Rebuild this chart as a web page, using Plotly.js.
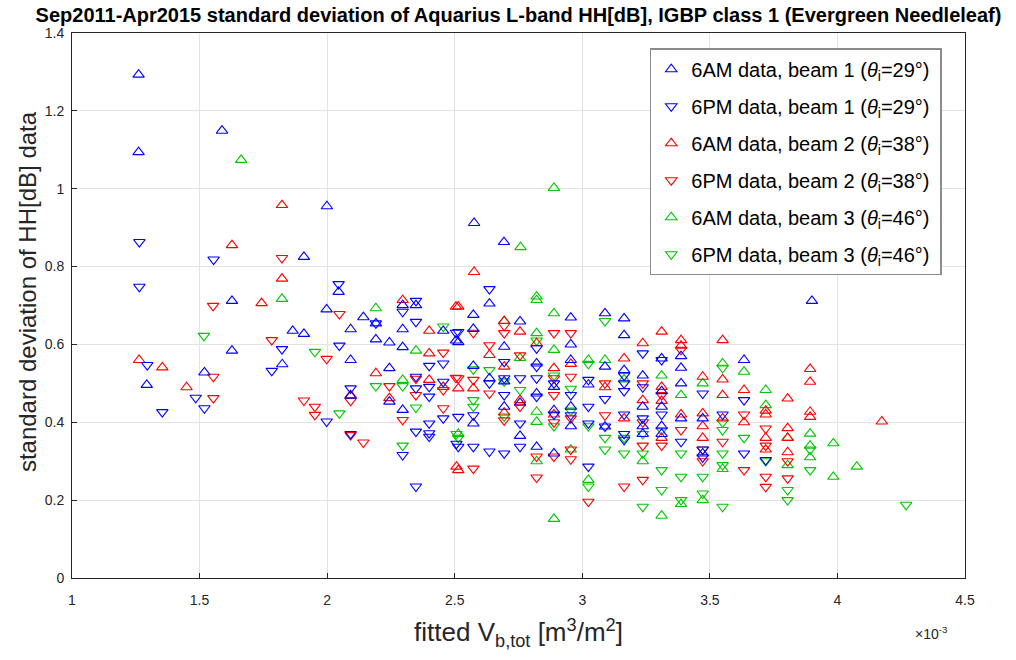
<!DOCTYPE html>
<html>
<head>
<meta charset="utf-8">
<script src="https://cdn.plot.ly/plotly-3.0.1.min.js"></script>
<style>html,body{margin:0;padding:0;background:#fff;}#chart{width:1016px;height:660px;}</style>
</head>
<body>
<div id="chart"></div>
<script>
// x values in units of 1e-3 m^3/m^2
var am1_x = [1.261,1.261,1.588,1.999,1.909,1.627,1.865,1.627,1.824,1.519,1.293,2.045,1.998,2.142,2.191,2.296,2.348,1.909,2.092,2.191,2.244,2.296,2.296,2.455,2.505,2.092,2.244,2.244,2.092,2.296,2.576,2.693,2.636,3.90,2.514,2.573,2.573,2.573,2.573,2.636,2.694,2.694,2.694,2.756,2.756,2.756,2.821,2.821,2.821,2.889,2.889,2.889,2.955,2.955,2.955,2.955,2.955,3.024,3.089,3.089,3.089,3.164,3.164,3.164,3.237,3.237,3.237,3.237,3.311,3.311,3.311,3.311,3.311,3.387,3.387,3.387,3.387,3.472,3.472,3.634];
var am1_y = [1.293,1.094,1.149,0.955,0.825,0.712,0.635,0.584,0.549,0.528,0.496,0.735,0.690,0.670,0.654,0.701,0.701,0.627,0.639,0.613,0.605,0.639,0.593,0.635,0.610,0.560,0.539,0.453,0.468,0.432,0.912,0.863,0.705,0.712,0.606,0.676,0.640,0.545,0.397,0.513,0.594,0.505,0.440,0.659,0.450,0.365,0.551,0.474,0.337,0.491,0.431,0.320,0.669,0.600,0.560,0.440,0.390,0.497,0.680,0.543,0.389,0.667,0.624,0.534,0.520,0.440,0.390,0.370,0.564,0.480,0.440,0.390,0.370,0.570,0.540,0.500,0.410,0.410,0.320,0.560];

var pm1_x = [1.264,1.555,1.264,2.045,1.295,1.823,1.783,1.485,1.519,1.354,2.048,1.998,2.191,2.296,2.348,2.348,2.505,2.400,2.455,2.348,2.348,2.400,2.400,2.455,2.092,2.092,2.348,2.296,2.400,2.400,2.400,2.455,2.348,2.507,2.636,2.514,2.514,2.514,2.573,2.573,2.636,2.636,2.694,2.694,2.694,2.694,2.756,2.756,2.756,2.821,2.821,2.821,2.821,2.889,2.889,2.955,2.955,3.024,3.024,3.024,3.024,3.089,3.089,3.164,3.164,3.164,3.164,3.164,3.164,3.237,3.237,3.237,3.311,3.311,3.387,3.472,3.472,3.472,3.550,3.634,3.634,3.719];
var pm1_y = [0.863,0.818,0.748,0.755,0.547,0.588,0.532,0.463,0.436,0.426,0.597,0.402,0.654,0.684,0.712,0.658,0.630,0.545,0.551,0.517,0.487,0.491,0.466,0.504,0.487,0.370,0.376,0.316,0.397,0.372,0.363,0.410,0.235,0.345,0.742,0.632,0.414,0.337,0.418,0.337,0.500,0.325,0.555,0.513,0.470,0.320,0.513,0.397,0.337,0.590,0.543,0.513,0.466,0.500,0.420,0.470,0.418,0.509,0.440,0.397,0.286,0.460,0.389,0.520,0.500,0.480,0.420,0.370,0.355,0.577,0.490,0.410,0.560,0.420,0.350,0.474,0.330,0.310,0.420,0.457,0.320,0.303];

var am2_x = [1.823,1.627,1.823,1.743,1.263,1.354,1.449,2.296,2.505,2.400,2.400,2.191,2.244,2.400,2.455,2.092,2.507,2.576,2.514,2.514,2.514,2.573,2.636,2.694,2.694,2.694,2.756,2.756,2.821,2.889,2.889,2.955,3.089,3.164,3.164,3.237,3.237,3.311,3.311,3.311,3.311,3.387,3.387,3.387,3.472,3.472,3.472,3.472,3.550,3.550,3.550,3.550,3.634,3.634,3.719,3.719,3.719,3.719,3.805,3.805,3.805,3.805,3.893,3.893,3.893,3.893,4.174];
var am2_y = [0.958,0.855,0.769,0.706,0.560,0.541,0.490,0.714,0.697,0.635,0.577,0.526,0.462,0.509,0.491,0.470,0.286,0.786,0.697,0.487,0.277,0.487,0.573,0.660,0.543,0.425,0.633,0.457,0.603,0.539,0.420,0.550,0.490,0.564,0.410,0.603,0.457,0.633,0.491,0.455,0.360,0.611,0.597,0.420,0.517,0.423,0.390,0.360,0.611,0.510,0.470,0.410,0.483,0.400,0.430,0.420,0.360,0.330,0.461,0.385,0.360,0.323,0.537,0.504,0.427,0.414,0.402];

var pm2_x = [1.823,1.553,1.783,1.554,1.554,2.048,1.998,2.455,2.244,2.348,2.348,2.455,2.505,1.909,1.952,1.952,2.092,2.092,2.142,2.296,2.455,2.573,2.573,2.573,2.514,2.636,2.636,2.694,2.694,2.694,2.756,2.756,2.821,2.821,2.889,2.889,2.889,2.889,2.889,2.955,2.955,2.955,2.955,2.955,3.024,3.089,3.089,3.164,3.237,3.237,3.237,3.237,3.311,3.311,3.387,3.387,3.472,3.472,3.550,3.634,3.634,3.719,3.719,3.719,3.719,3.805,3.805];
var pm2_y = [0.822,0.699,0.611,0.517,0.462,0.678,0.563,0.579,0.493,0.512,0.470,0.483,0.514,0.456,0.440,0.419,0.455,0.367,0.348,0.406,0.436,0.630,0.509,0.281,0.513,0.598,0.474,0.648,0.629,0.405,0.572,0.440,0.312,0.258,0.629,0.513,0.470,0.400,0.312,0.629,0.517,0.410,0.330,0.305,0.196,0.500,0.418,0.235,0.500,0.400,0.340,0.252,0.470,0.340,0.586,0.380,0.330,0.300,0.350,0.420,0.277,0.384,0.340,0.260,0.234,0.300,0.256];

var am3_x = [1.663,1.823,2.889,2.758,2.821,2.191,2.348,2.296,2.514,2.694,2.756,2.821,2.821,2.821,2.821,2.821,2.889,2.889,2.889,2.955,3.024,3.024,3.089,3.164,3.237,3.311,3.311,3.387,3.472,3.550,3.550,3.634,3.719,3.719,3.805,3.805,3.893,3.893,3.893,3.984,3.984,4.076,3.472,3.387];
var am3_y = [1.074,0.717,1.002,0.850,0.723,0.693,0.584,0.509,0.370,0.660,0.565,0.714,0.629,0.427,0.401,0.300,0.680,0.586,0.152,0.330,0.560,0.252,0.560,0.510,0.300,0.520,0.160,0.470,0.500,0.551,0.280,0.530,0.483,0.444,0.360,0.290,0.371,0.340,0.310,0.346,0.260,0.286,0.200,0.190];

var pm3_x = [1.517,1.952,2.455,2.191,2.296,2.048,2.296,2.348,2.507,2.514,2.573,2.573,2.573,2.636,2.694,2.694,2.756,2.821,2.889,2.889,2.955,2.955,3.024,3.024,3.024,3.089,3.089,3.089,3.164,3.164,3.237,3.237,3.237,3.311,3.311,3.311,3.387,3.387,3.387,3.472,3.472,3.550,3.550,3.550,3.550,3.550,3.550,3.634,3.719,3.805,3.805,3.893,3.893,4.269];
var pm3_y = [0.622,0.581,0.646,0.493,0.493,0.423,0.340,0.438,0.370,0.360,0.536,0.457,0.440,0.534,0.505,0.415,0.483,0.610,0.520,0.390,0.486,0.430,0.550,0.390,0.235,0.660,0.360,0.330,0.360,0.320,0.370,0.320,0.183,0.380,0.277,0.226,0.320,0.260,0.200,0.260,0.217,0.540,0.400,0.380,0.320,0.290,0.183,0.360,0.300,0.226,0.200,0.330,0.277,0.188];

var seriesNames = [
  '6AM data, beam 1 (<i>θ</i><sub>i</sub>=29°) ',
  '6PM data, beam 1 (<i>θ</i><sub>i</sub>=29°) ',
  '6AM data, beam 2 (<i>θ</i><sub>i</sub>=38°) ',
  '6PM data, beam 2 (<i>θ</i><sub>i</sub>=38°) ',
  '6AM data, beam 3 (<i>θ</i><sub>i</sub>=46°) ',
  '6PM data, beam 3 (<i>θ</i><sub>i</sub>=46°) '
];
var xTicks = [1, 1.5, 2, 2.5, 3, 3.5, 4, 4.5];
var yTicks = [0, 0.2, 0.4, 0.6, 0.8, 1, 1.2, 1.4];

var BLUE = 'rgb(0,0,255)', RED = 'rgb(255,0,0)', GREEN = 'rgb(0,200,0)';
function tr(x, y, name, sym, col, rank) {
  return {
    x: x, y: y, name: name, type: 'scatter', mode: 'markers',
    legendrank: rank, legendgroup: 'g' + rank,
    marker: {symbol: sym, size: 10, color: col, line: {color: col, width: 1.1}},
    hoverinfo: 'x+y'
  };
}
var data = [
  tr(pm3_x, pm3_y, seriesNames[5], 'triangle-down-open', GREEN, 6),
  tr(am3_x, am3_y, seriesNames[4], 'triangle-up-open', GREEN, 5),
  tr(pm2_x, pm2_y, seriesNames[3], 'triangle-down-open', RED, 4),
  tr(am2_x, am2_y, seriesNames[2], 'triangle-up-open', RED, 3),
  tr(pm1_x, pm1_y, seriesNames[1], 'triangle-down-open', BLUE, 2),
  tr(am1_x, am1_y, seriesNames[0], 'triangle-up-open', BLUE, 1)
];

var AX = '#262626';
var FONT = 'Liberation Sans, Arial, sans-serif';
var layout = {
  width: 1016, height: 660,
  margin: {l: 72, r: 51, t: 33, b: 82, pad: 0},
  paper_bgcolor: '#ffffff', plot_bgcolor: '#ffffff',
  font: {family: FONT, color: AX},
  title: {text: 'Sep2011-Apr2015 standard deviation of Aquarius L-band HH[dB], IGBP class 1 (Evergreen Needleleaf)',
          font: {family: FONT, size: 20, weight: 'bold', color: '#000'},
          x: 0.5, xref: 'paper', xanchor: 'center', y: 0.977, yanchor: 'middle'},
  xaxis: {
    range: [1, 4.5], tickvals: xTicks, ticktext: xTicks.map(String),
    showgrid: true, gridcolor: '#e3e3e3', gridwidth: 1, zeroline: false,
    showline: true, linecolor: AX, linewidth: 1, mirror: true,
    ticks: 'inside', ticklen: 5, tickcolor: AX, ticklabelstandoff: 9,
    tickfont: {size: 14, color: AX},
    title: {text: 'fitted V<sub>b,tot</sub> [m<sup>3</sup>/m<sup>2</sup>]', font: {size: 26, color: AX}, standoff: 16}
  },
  yaxis: {
    range: [0, 1.4], tickvals: yTicks, ticktext: yTicks.map(String),
    showgrid: true, gridcolor: '#e3e3e3', gridwidth: 1, zeroline: false,
    showline: true, linecolor: AX, linewidth: 1, mirror: true,
    ticks: 'inside', ticklen: 5, tickcolor: AX, ticklabelstandoff: 4,
    tickfont: {size: 14, color: AX}
  },
  legend: {
    x: 0.647, y: 0.972, xanchor: 'left', yanchor: 'top',
    bgcolor: '#ffffff', bordercolor: '#8c8c8c', borderwidth: 1.5,
    font: {size: 20, color: '#000'}, traceorder: 'grouped', tracegroupgap: 8,
    itemwidth: 30
  },
  annotations: [{
    text: 'standard deviation of HH[dB] data', textangle: -90,
    xref: 'paper', yref: 'paper', x: -0.049, y: 0.525,
    xanchor: 'center', yanchor: 'middle', showarrow: false, font: {size: 24, color: AX}
  }, {
    text: '×10<sup>-3</sup>', xref: 'paper', yref: 'paper', x: 0.963, y: -0.1,
    xanchor: 'center', yanchor: 'middle', showarrow: false, font: {size: 14, color: AX}
  }],
  showlegend: true
};
Plotly.newPlot('chart', data, layout, {displayModeBar: false, staticPlot: true});
</script>
</body>
</html>
